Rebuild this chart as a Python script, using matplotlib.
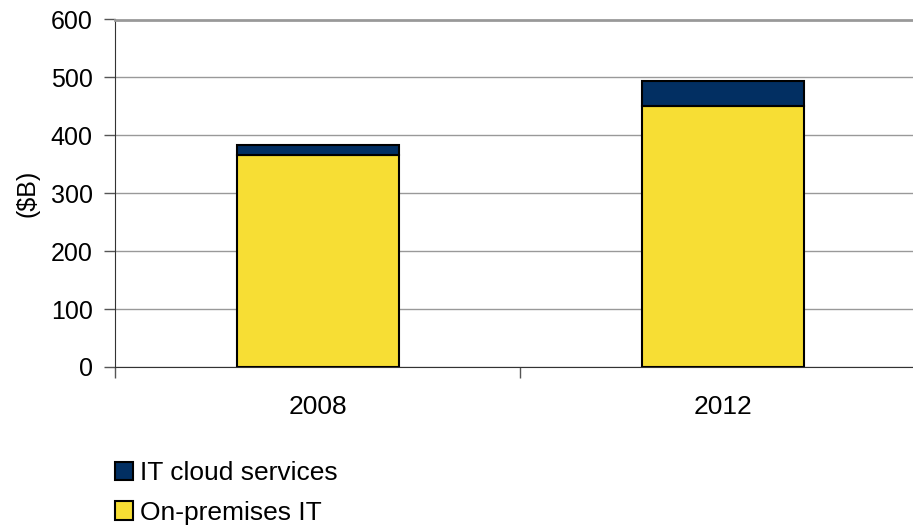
import matplotlib
matplotlib.use("Agg")
import matplotlib.pyplot as plt
from matplotlib.patches import Patch

# valores ($B)
anos = ["2008", "2012"]
on_premises = [366, 451]
cloud = [17, 43]
y_ticks = [0, 100, 200, 300, 400, 500, 600]

cor_amarelo = "#F7DE34"
cor_azul = "#022F62"

plt.rcParams["font.family"] = ["Liberation Sans", "DejaVu Sans"]

fig = plt.figure(figsize=(9.13, 5.29), dpi=100)
ax = fig.add_axes([115 / 913, 162 / 529, 810 / 913, 347.5 / 529])

x = list(range(len(anos)))
ax.bar(x, on_premises, width=0.4, color=cor_amarelo, edgecolor="black", linewidth=1.5, zorder=3)
ax.bar(x, cloud, width=0.4, bottom=on_premises, color=cor_azul, edgecolor="black", linewidth=1.5, zorder=3)

ax.set_xlim(-0.5, 1.5)
ax.set_ylim(0, 600)
ax.set_yticks(y_ticks)
ax.set_xticks(x)
ax.set_xticklabels(anos)
ax.tick_params(axis="x", length=0, pad=20, labelsize=19)
ax.tick_params(axis="y", length=8, width=1, color="#555555", labelsize=18, pad=8)
# marcas nos limites das categorias
ax.set_xticks([-0.5, 0.5, 1.5], minor=True)
ax.tick_params(axis="x", which="minor", length=8, width=1, color="#555555")

ax.grid(axis="y", color="#999999", linewidth=1, zorder=0)
ax.set_axisbelow(True)
ax.spines["right"].set_visible(False)
ax.spines["top"].set_color("#999999")
ax.spines["top"].set_linewidth(2)
ax.spines["left"].set_color("#333333")
ax.spines["bottom"].set_color("#333333")
ax.set_ylabel("($B)", fontsize=18, labelpad=8)

itens = [Patch(facecolor=cor_azul, edgecolor="black", linewidth=1.5, label="IT cloud services"),
         Patch(facecolor=cor_amarelo, edgecolor="black", linewidth=1.5, label="On-premises IT")]
fig.legend(handles=itens, loc="upper left", bbox_to_anchor=(115 / 913, 1 - 461 / 529),
           frameon=False, fontsize=19, handlelength=0.7, handleheight=0.7,
           handletextpad=0.25, labelspacing=0.6, borderpad=0, borderaxespad=0)

fig.savefig("out.png", dpi=100)
